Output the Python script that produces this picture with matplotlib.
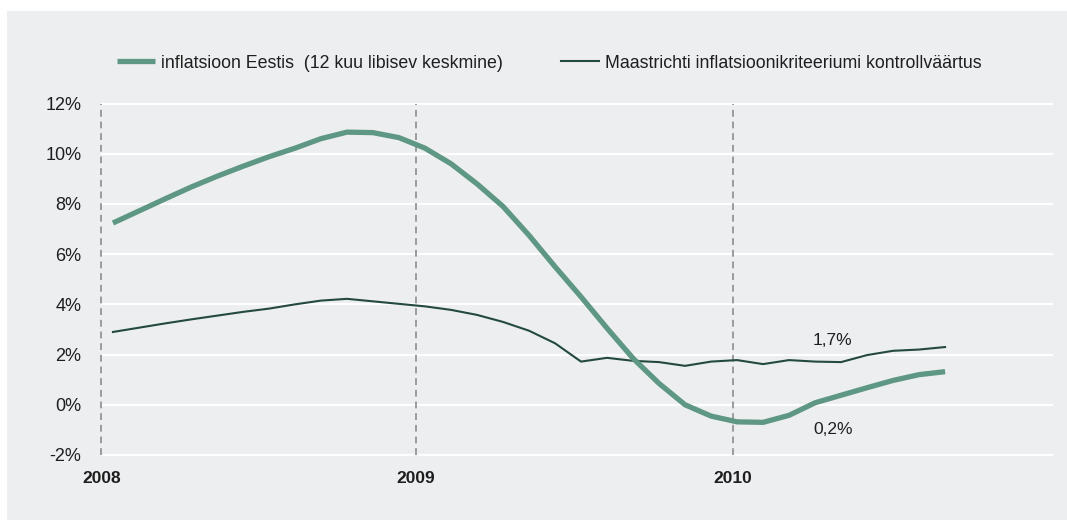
import matplotlib
matplotlib.use("Agg")
import matplotlib.pyplot as plt
from matplotlib.patches import Rectangle
from matplotlib.ticker import FuncFormatter
import numpy as np

# Monthly observations, January 2008 – September 2010
months = [f"{y}-{m:02d}" for y in (2008, 2009, 2010) for m in range(1, 13)][:33]

inflation_ee = [7.24, 7.72, 8.20, 8.67, 9.10, 9.50, 9.88, 10.22, 10.60, 10.86, 10.84,
                10.64, 10.22, 9.60, 8.80, 7.90, 6.75, 5.50, 4.30, 3.05, 1.85, 0.85,
                0.00, -0.45, -0.68, -0.70, -0.42, 0.08, 0.38, 0.68, 0.97, 1.20, 1.32]
maastricht = [2.90, 3.07, 3.24, 3.40, 3.55, 3.70, 3.83, 4.00, 4.15, 4.22, 4.12,
              4.02, 3.92, 3.78, 3.58, 3.30, 2.95, 2.45, 1.72, 1.87, 1.75, 1.70,
              1.55, 1.72, 1.78, 1.62, 1.78, 1.72, 1.70, 1.98, 2.15, 2.20, 2.30]

series_labels = ["inflatsioon Eestis  (12 kuu libisev keskmine)",
                 "Maastrichti inflatsioonikriteeriumi kontrollväärtus"]
year_labels = ["2008", "2009", "2010"]
year_marks = [-0.45, 11.65, 23.85]          # year boundaries on the month axis
y_ticks = [-2, 0, 2, 4, 6, 8, 10, 12]
annotations = [("1,7%", 27.65, 2.55), ("0,2%", 27.7, -1.0)]

GREEN = "#5e9783"
DARK = "#234a3d"
PANEL = "#edeef0"
TEXT = "#1e1e1e"

plt.rcParams["font.family"] = ["Liberation Sans", "DejaVu Sans"]

fig = plt.figure(figsize=(10.67, 5.2), dpi=100)
fig.patch.set_facecolor("white")
fig.add_artist(Rectangle((7 / 1067, 0), 1, 1 - 11 / 520, transform=fig.transFigure,
                         facecolor=PANEL, edgecolor="none", zorder=0))

ax = fig.add_axes([101 / 1067, 1 - 457.5 / 520, 952 / 1067, 356.5 / 520])
ax.set_facecolor("none")
ax.set_xlim(-0.46, 36.15)
ax.set_ylim(-2.1, 12.1)

for s in ax.spines.values():
    s.set_visible(False)

# horizontal white grid
for yv in y_ticks:
    ax.axhline(yv, color="white", lw=1.6, zorder=1)

# dashed year markers
ax.vlines(year_marks, -2, 12, colors="#9a9b9d", linestyles=(0, (3.5, 2.5)), lw=1.4,
          zorder=2, clip_on=False)

x = np.arange(len(months))
ax.plot(x, inflation_ee, color=GREEN, lw=3.8, solid_capstyle="butt", zorder=4,
        label=series_labels[0])
ax.plot(x, maastricht, color=DARK, lw=1.5, zorder=3, label=series_labels[1])

ax.set_yticks(y_ticks)
ax.yaxis.set_major_formatter(FuncFormatter(lambda v, p: f"{v:.0f}%"))
ax.tick_params(axis="y", length=0, pad=14, labelsize=13, labelcolor=TEXT)
ax.set_xticks(year_marks)
ax.set_xticklabels(year_labels, fontweight="bold", fontsize=12.5, color=TEXT)
ax.tick_params(axis="x", length=0, pad=9.5)

for txt, xv, yv in annotations:
    ax.text(xv, yv, txt, ha="center", va="center", fontsize=12.5, color=TEXT)

ax.legend(ncol=2, loc="center left", bbox_to_anchor=(117 / 1067, 1 - 63 / 520),
          bbox_transform=fig.transFigure, frameon=False, fontsize=12.8,
          handlelength=2.15, handletextpad=0.3, columnspacing=3.3,
          borderpad=0, borderaxespad=0, labelcolor=TEXT)

fig.savefig("out.png", dpi=100, facecolor=fig.get_facecolor())
